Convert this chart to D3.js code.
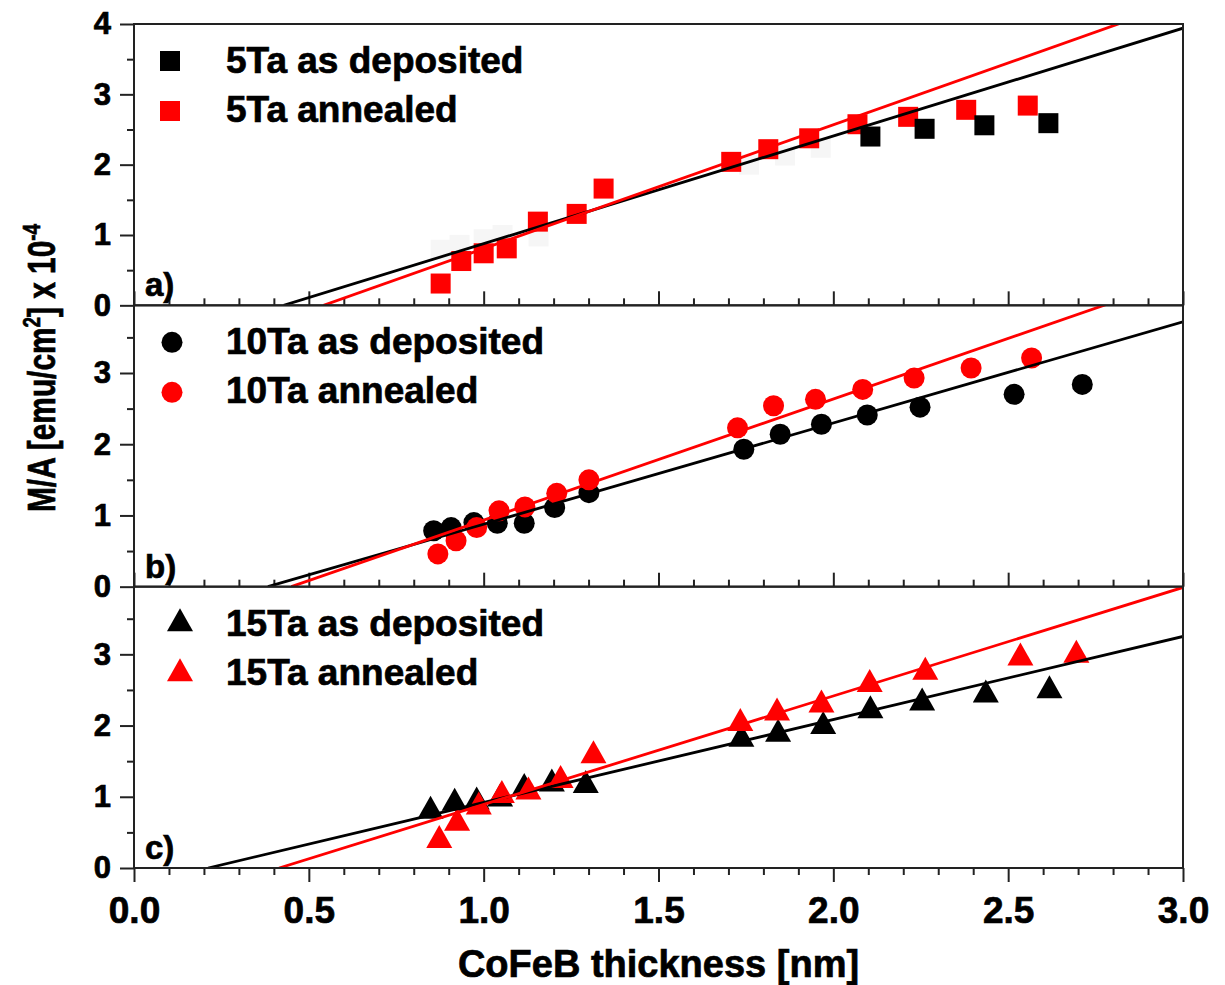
<!DOCTYPE html>
<html><head><meta charset="utf-8">
<script src="https://cdn.jsdelivr.net/npm/d3@7"></script>
<style>
html,body{margin:0;padding:0;background:#fff;}
svg{display:block;font-family:"Liberation Sans",Arial,sans-serif;font-weight:bold;}
svg text{stroke:#000;stroke-width:0.7px;}
</style></head><body>
<svg id="chart" width="1225" height="985"></svg>
<script>
// ---------- data ----------
const panelLabels = ["a)", "b)", "c)"];
const panelYMax = [4, 3.95, 3.95];
const panelYTickLabels = [[0,1,2,3,4],[0,1,2,3],[0,1,2,3]];
const xTickLabels = [0.0,0.5,1.0,1.5,2.0,2.5,3.0];
const legendDep = ["5Ta as deposited", "10Ta as deposited", "15Ta as deposited"];
const legendAnn = ["5Ta annealed", "10Ta annealed", "15Ta annealed"];

// panel a (5Ta) squares
const a_dep_x = [2.106, 2.261, 2.432, 2.615];
const a_dep_y = [2.40, 2.51, 2.56, 2.59];
const a_depFaint_x = [0.877, 0.931, 1.0, 1.054, 1.157, 1.759, 1.862, 1.964];
const a_depFaint_y = [0.79, 0.86, 0.94, 1.00, 0.98, 2.00, 2.13, 2.24];
const a_ann_x = [0.877,0.936,1.0,1.066,1.155,1.266,1.343,1.708,1.814,1.931,2.069,2.214,2.380,2.556];
const a_ann_y = [0.31,0.63,0.74,0.81,1.19,1.30,1.66,2.04,2.22,2.375,2.575,2.68,2.78,2.84];

// panel b (10Ta) circles
const b_dep_x = [0.857,0.907,0.972,1.039,1.116,1.203,1.301,1.744,1.848,1.966,2.097,2.248,2.517,2.712];
const b_dep_y = [0.785,0.83,0.90,0.89,0.89,1.11,1.32,1.93,2.14,2.28,2.41,2.52,2.70,2.84];
const b_ann_x = [0.869,0.921,0.980,1.044,1.118,1.209,1.301,1.726,1.829,1.949,2.084,2.231,2.394,2.567];
const b_ann_y = [0.46,0.645,0.83,1.065,1.12,1.31,1.50,2.23,2.54,2.63,2.77,2.93,3.07,3.21];

// panel c (15Ta) triangles
const c_dep_x = [0.848,0.917,0.98,1.047,1.116,1.195,1.292,1.737,1.842,1.971,2.106,2.254,2.436,2.618];
const c_dep_y = [0.80,0.91,0.93,0.97,1.12,1.18,1.16,1.81,1.88,1.99,2.21,2.32,2.43,2.49];
const c_ann_x = [0.873,0.924,0.986,1.052,1.128,1.22,1.314,1.734,1.839,1.966,2.104,2.263,2.535,2.695];
const c_ann_y = [0.39,0.63,0.86,1.02,1.07,1.23,1.58,2.03,2.18,2.29,2.58,2.75,2.95,2.99];

// linear fits: slope and x-intercept
const fitDepSlope = [1.532, 1.421, 1.166];
const fitDepX0    = [0.428, 0.383, 0.212];
const fitAnnSlope = [1.760, 1.700, 1.524];
const fitAnnX0    = [0.542, 0.450, 0.415];

// ---------- layout ----------
const L = 134, R = 1183, T = 24, B = 868;
const panelH = (B - T) / 3;
const RED = "#ff0000", BLK = "#000000", FRAME = "#222";
const svg = d3.select("#chart");
const x = d3.scaleLinear().domain([0, 3]).range([L, R]);

const zip = (xs, ys) => xs.map((v, i) => ({x: v, y: ys[i]}));
const panels = [
  {shape: "square", dep: zip(a_dep_x, a_dep_y), faint: zip(a_depFaint_x, a_depFaint_y), ann: zip(a_ann_x, a_ann_y), redFirst: true, legX: 170},
  {shape: "circle", dep: zip(b_dep_x, b_dep_y), faint: [], ann: zip(b_ann_x, b_ann_y), redFirst: false, legX: 172},
  {shape: "triangle", dep: zip(c_dep_x, c_dep_y), faint: [], ann: zip(c_ann_x, c_ann_y), redFirst: false, legX: 180}
];

function marker(g, shape, cx, cy, color) {
  if (shape === "square") {
    g.append("rect").attr("x", cx - 10).attr("y", cy - 10).attr("width", 20).attr("height", 20).attr("fill", color);
  } else if (shape === "circle") {
    g.append("circle").attr("cx", cx).attr("cy", cy).attr("r", 10.5).attr("fill", color);
  } else {
    const w = 26, h = 23;
    const p = d3.path();
    p.moveTo(cx, cy - h * 2 / 3);
    p.lineTo(cx + w / 2, cy + h / 3);
    p.lineTo(cx - w / 2, cy + h / 3);
    p.closePath();
    g.append("path").attr("d", p.toString()).attr("fill", color);
  }
}

const xMinor = d3.range(0, 31).filter(i => i % 5 !== 0).map(i => i / 10);

panels.forEach((P, i) => {
  const top = T + i * panelH, bot = top + panelH;
  const y = d3.scaleLinear().domain([0, panelYMax[i]]).range([bot, top]);
  const g = svg.append("g");

  const cid = "clip" + i;
  svg.append("clipPath").attr("id", cid).append("rect")
    .attr("x", L).attr("y", top).attr("width", R - L).attr("height", panelH);

  const yMinor = d3.range(0.5, panelYMax[i], 1);
  const yMaj = g.append("g").attr("transform", `translate(${L},0)`)
    .call(d3.axisLeft(y).tickValues(panelYTickLabels[i]).tickSize(14).tickPadding(9).tickFormat(d3.format("d")));
  const yMin = g.append("g").attr("transform", `translate(${L},0)`)
    .call(d3.axisLeft(y).tickValues(yMinor).tickSize(7).tickFormat(""));
  [yMaj, yMin].forEach(a => {
    a.select(".domain").remove();
    a.selectAll("line").attr("stroke", FRAME).attr("stroke-width", 2);
  });
  yMaj.selectAll("text").attr("font-size", 31).attr("font-weight", "bold")
    .attr("font-family", '"Liberation Sans",Arial,sans-serif').attr("fill", "#000");

  const last = i === 2;
  const xMaj = g.append("g").attr("transform", `translate(0,${bot})`)
    .call(d3.axisBottom(x).tickValues(xTickLabels).tickSize(last ? 14 : -14).tickPadding(15)
      .tickFormat(last ? d3.format(".1f") : ""));
  const xMin = g.append("g").attr("transform", `translate(0,${bot})`)
    .call(d3.axisBottom(x).tickValues(xMinor).tickSize(last ? 7 : -7).tickFormat(""));
  [xMaj, xMin].forEach(a => {
    a.select(".domain").remove();
    a.selectAll("line").attr("stroke", FRAME).attr("stroke-width", 2);
  });
  xMaj.selectAll("text").attr("font-size", 37).attr("font-weight", "bold")
    .attr("font-family", '"Liberation Sans",Arial,sans-serif').attr("fill", "#000");

  const pts = g.append("g").attr("clip-path", `url(#${cid})`);
  P.faint.forEach(d => marker(pts, P.shape, x(d.x), y(d.y), "#f6f6f6"));
  const order = P.redFirst ? [[P.ann, RED], [P.dep, BLK]] : [[P.dep, BLK], [P.ann, RED]];
  order.forEach(([arr, col]) => arr.forEach(d => marker(pts, P.shape, x(d.x), y(d.y), col)));

  const line = d3.line().x(d => x(d[0])).y(d => y(d[1]));
  const fits = [[fitDepSlope[i], fitDepX0[i], BLK], [fitAnnSlope[i], fitAnnX0[i], RED]];
  fits.forEach(([s, x0, col]) => {
    const ends = [[x0, 0], [3, s * (3 - x0)]];
    pts.append("path").attr("d", line(ends)).attr("fill", "none")
      .attr("stroke", col).attr("stroke-width", 2.8);
  });

  g.append("rect").attr("x", L).attr("y", top).attr("width", R - L).attr("height", panelH)
    .attr("fill", "none").attr("stroke", FRAME).attr("stroke-width", 2);

  marker(g, P.shape, P.legX, top + 37, BLK);
  marker(g, P.shape, P.legX, top + 87, RED);
  g.append("text").attr("x", 226).attr("y", top + 49).attr("font-size", 37).text(legendDep[i]);
  g.append("text").attr("x", 226).attr("y", top + 98).attr("font-size", 37).text(legendAnn[i]);

  g.append("text").attr("x", 145).attr("y", bot - 9).attr("font-size", 33).text(panelLabels[i]);
});

svg.append("text").attr("x", (L + R) / 2).attr("y", 977).attr("text-anchor", "middle")
  .attr("font-size", 38).text("CoFeB thickness [nm]");

const yt = svg.append("text").attr("transform", "translate(55,368) rotate(-90)")
  .attr("text-anchor", "middle").attr("font-size", 38)
  .attr("textLength", 288).attr("lengthAdjust", "spacingAndGlyphs");
yt.append("tspan").text("M/A [emu/cm");
yt.append("tspan").attr("font-size", 24).attr("dy", -15).text("2");
yt.append("tspan").attr("dy", 15).text("] x 10");
yt.append("tspan").attr("font-size", 24).attr("dy", -15).text("-4");
</script>
</body></html>
